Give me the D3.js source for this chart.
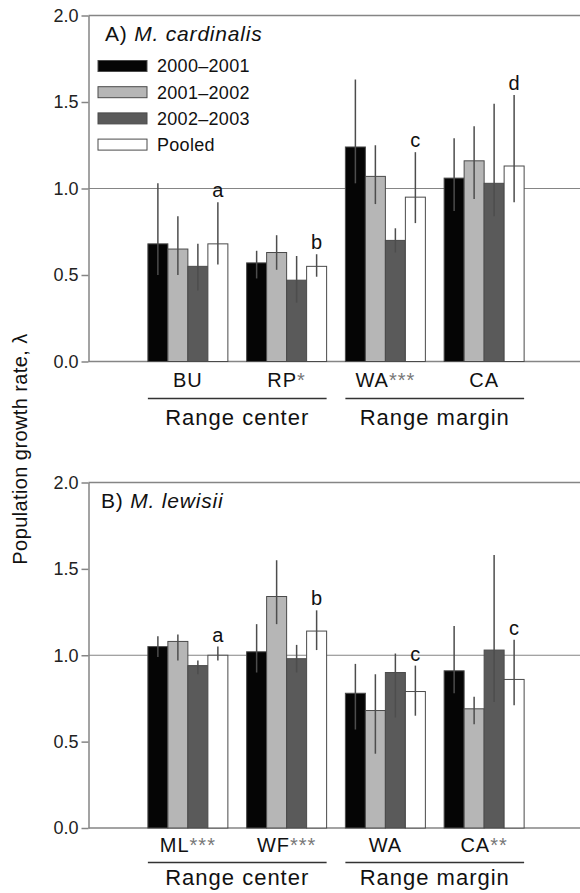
<!DOCTYPE html>
<html>
<head>
<meta charset="utf-8">
<script src="https://cdn.jsdelivr.net/npm/d3@7"></script>
<style>
	body { margin: 0; background: #fff; }
	svg { display: block; font-family: "Liberation Sans", Arial, Helvetica, sans-serif; }
</style>
</head>
<body>
<svg id="chart" width="580" height="893"></svg>
<script>
/* jshint esversion: 6 */

// series (years) and their fills
var series = ["2000\u20132001", "2001\u20132002", "2002\u20132003", "Pooled"];
var seriesFill = ["#050505", "#b6b6b6", "#5a5a5a", "#ffffff"];
var yTicks = [0.0, 0.5, 1.0, 1.5, 2.0];

// A) M. cardinalis
var cardSites = ["BU", "RP", "WA", "CA"];
var cardStars = ["", "*", "***", ""];
var cardRange = ["Range center", "Range center", "Range margin", "Range margin"];
var cardLetters = ["a", "b", "c", "d"];
var cardMean = [[0.68, 0.65, 0.55, 0.68], [0.57, 0.63, 0.47, 0.55], [1.24, 1.07, 0.70, 0.95], [1.06, 1.16, 1.03, 1.13]];
var cardLow  = [[0.50, 0.50, 0.41, 0.56], [0.48, 0.53, 0.34, 0.49], [1.03, 0.91, 0.63, 0.80], [0.87, 0.94, 0.84, 0.92]];
var cardHigh = [[1.03, 0.84, 0.68, 0.92], [0.64, 0.73, 0.61, 0.62], [1.63, 1.25, 0.77, 1.21], [1.29, 1.36, 1.49, 1.54]];

// B) M. lewisii
var lewSites = ["ML", "WF", "WA", "CA"];
var lewStars = ["***", "***", "", "**"];
var lewRange = ["Range center", "Range center", "Range margin", "Range margin"];
var lewLetters = ["a", "b", "c", "c"];
var lewMean = [[1.05, 1.08, 0.94, 1.00], [1.02, 1.34, 0.98, 1.14], [0.78, 0.68, 0.90, 0.79], [0.91, 0.69, 1.03, 0.86]];
var lewLow  = [[0.99, 0.97, 0.89, 0.97], [0.90, 1.18, 0.90, 1.03], [0.57, 0.43, 0.64, 0.65], [0.78, 0.60, 0.73, 0.71]];
var lewHigh = [[1.11, 1.12, 0.97, 1.05], [1.18, 1.55, 1.06, 1.26], [0.95, 0.89, 1.01, 0.94], [1.17, 0.76, 1.58, 1.09]];

var svg = d3.select("#chart");
var axisX = 88.5, rightX = 580;
var axisColor = "#858585";

var x0 = d3.scaleBand().range([138.5, 533.5]).paddingInner(0.19).paddingOuter(0.095);
var x1 = d3.scaleBand().domain(series).padding(0);

function panel(cfg) {
	var g = svg.append("g");
	var y = d3.scaleLinear().domain([0, 2]).range([cfg.zeroY, cfg.topY]);
	x0.domain(cfg.sites);
	x1.range([0, x0.bandwidth()]);

	// frame lines: top, reference at 1.0, baseline
	[2, 1, 0].forEach(function(v) {
		g.append("line")
			.attr("x1", axisX).attr("x2", rightX)
			.attr("y1", y(v)).attr("y2", y(v))
			.attr("stroke", axisColor).attr("stroke-width", v === 1 ? 1.2 : 1.5);
	});

	// y axis
	var ax = g.append("g").attr("transform", "translate(" + axisX + ",0)")
		.call(d3.axisLeft(y).tickValues(yTicks).tickFormat(d3.format(".1f")).tickSize(7).tickSizeOuter(0).tickPadding(3));
	ax.select(".domain").attr("stroke", axisColor).attr("stroke-width", 1.5);
	ax.selectAll(".tick line").attr("stroke", axisColor).attr("stroke-width", 1.5);
	ax.selectAll(".tick text").attr("font-size", 18).attr("fill", "#222")
		.attr("font-family", "Liberation Sans, Arial, sans-serif");

	// bars
	var site = g.selectAll("g.site").data(cfg.sites).enter().append("g")
		.attr("class", "site")
		.attr("transform", function(d) { return "translate(" + x0(d) + ",0)"; });

	site.each(function(s, i) {
		let sg = d3.select(this);
		let rows = series.map(function(k, j) {
			return {key: k, j: j, mean: cfg.mean[i][j], lo: cfg.low[i][j], hi: cfg.high[i][j]};
		});
		sg.selectAll("rect").data(rows).enter().append("rect")
			.attr("x", function(d) { return x1(d.key); })
			.attr("y", function(d) { return y(d.mean); })
			.attr("width", x1.bandwidth())
			.attr("height", function(d) { return y(0) - y(d.mean); })
			.attr("fill", function(d) { return seriesFill[d.j]; })
			.attr("stroke", "#4a4a4a").attr("stroke-width", 1);
		sg.selectAll("line.err").data(rows).enter().append("line")
			.attr("class", "err")
			.attr("x1", function(d) { return x1(d.key) + x1.bandwidth() / 2; })
			.attr("x2", function(d) { return x1(d.key) + x1.bandwidth() / 2; })
			.attr("y1", function(d) { return y(d.lo); })
			.attr("y2", function(d) { return y(d.hi); })
			.attr("stroke", "#4d4d4d").attr("stroke-width", 1.5);
		// significance letter over pooled bar
		let pooled = rows[3];
		sg.append("text")
			.attr("x", x1(pooled.key) + x1.bandwidth() / 2)
			.attr("y", y(pooled.hi) - 5)
			.attr("text-anchor", "middle").attr("font-size", 20).attr("fill", "#111")
			.text(cfg.letters[i]);

		// site label with stars
		let lab = sg.append("text")
			.attr("x", x0.bandwidth() / 2)
			.attr("y", cfg.zeroY + cfg.labelDy)
			.attr("text-anchor", "middle").attr("font-size", 20).attr("letter-spacing", 1).attr("fill", "#111");
		lab.append("tspan").text(s);
		if (cfg.stars[i]) lab.append("tspan").attr("fill", "#777").text(cfg.stars[i]);
	});

	// range groups
	var ranges = Array.from(new Set(cfg.range));
	ranges.forEach(function(r) {
		let members = cfg.sites.filter(function(s, i) { return cfg.range[i] === r; });
		let left = x0(members[0]), right = x0(members[members.length - 1]) + x0.bandwidth();
		g.append("line")
			.attr("x1", left).attr("x2", right)
			.attr("y1", cfg.zeroY + cfg.lineDy).attr("y2", cfg.zeroY + cfg.lineDy)
			.attr("stroke", "#333").attr("stroke-width", 1.5);
		g.append("text")
			.attr("x", (left + right) / 2).attr("y", cfg.zeroY + cfg.rangeDy)
			.attr("text-anchor", "middle").attr("font-size", 22).attr("letter-spacing", 1).attr("fill", "#111")
			.text(r);
	});

	// panel title
	var t = g.append("text").attr("x", cfg.titleX).attr("y", cfg.topY + 25.5)
		.attr("font-size", 21).attr("letter-spacing", 0.8).attr("fill", "#111");
	t.append("tspan").text(cfg.tag + " ");
	t.append("tspan").attr("font-style", "italic").text(cfg.species);

	return y;
}

panel({tag: "A)", species: "M. cardinalis", titleX: 105,
	sites: cardSites, stars: cardStars, range: cardRange, letters: cardLetters,
	mean: cardMean, low: cardLow, high: cardHigh,
	zeroY: 361.5, topY: 15.5, labelDy: 25.5, lineDy: 37, rangeDy: 63});

panel({tag: "B)", species: "M. lewisii", titleX: 101,
	sites: lewSites, stars: lewStars, range: lewRange, letters: lewLetters,
	mean: lewMean, low: lewLow, high: lewHigh,
	zeroY: 828, topY: 482.5, labelDy: 24, lineDy: 34.5, rangeDy: 57});

// legend (panel A)
var legend = svg.append("g").attr("transform", "translate(98,66)");
var lg = legend.selectAll("g").data(series).enter().append("g")
	.attr("transform", function(d, i) { return "translate(0," + (i * 26.2) + ")"; });
lg.append("rect").attr("x", 0).attr("y", -5.5).attr("width", 49).attr("height", 11)
	.attr("fill", function(d, i) { return seriesFill[i]; })
	.attr("stroke", "#4a4a4a").attr("stroke-width", 1);
lg.append("text").attr("x", 59).attr("dy", "0.35em")
	.attr("font-size", 18).attr("letter-spacing", 0.3).attr("fill", "#111")
	.text(function(d) { return d; });

// shared y label
svg.append("text")
	.attr("transform", "translate(27,449) rotate(-90)")
	.attr("text-anchor", "middle").attr("font-size", 20).attr("letter-spacing", 0.4).attr("fill", "#111")
	.text("Population growth rate, \u03bb");
</script>
</body>
</html>
